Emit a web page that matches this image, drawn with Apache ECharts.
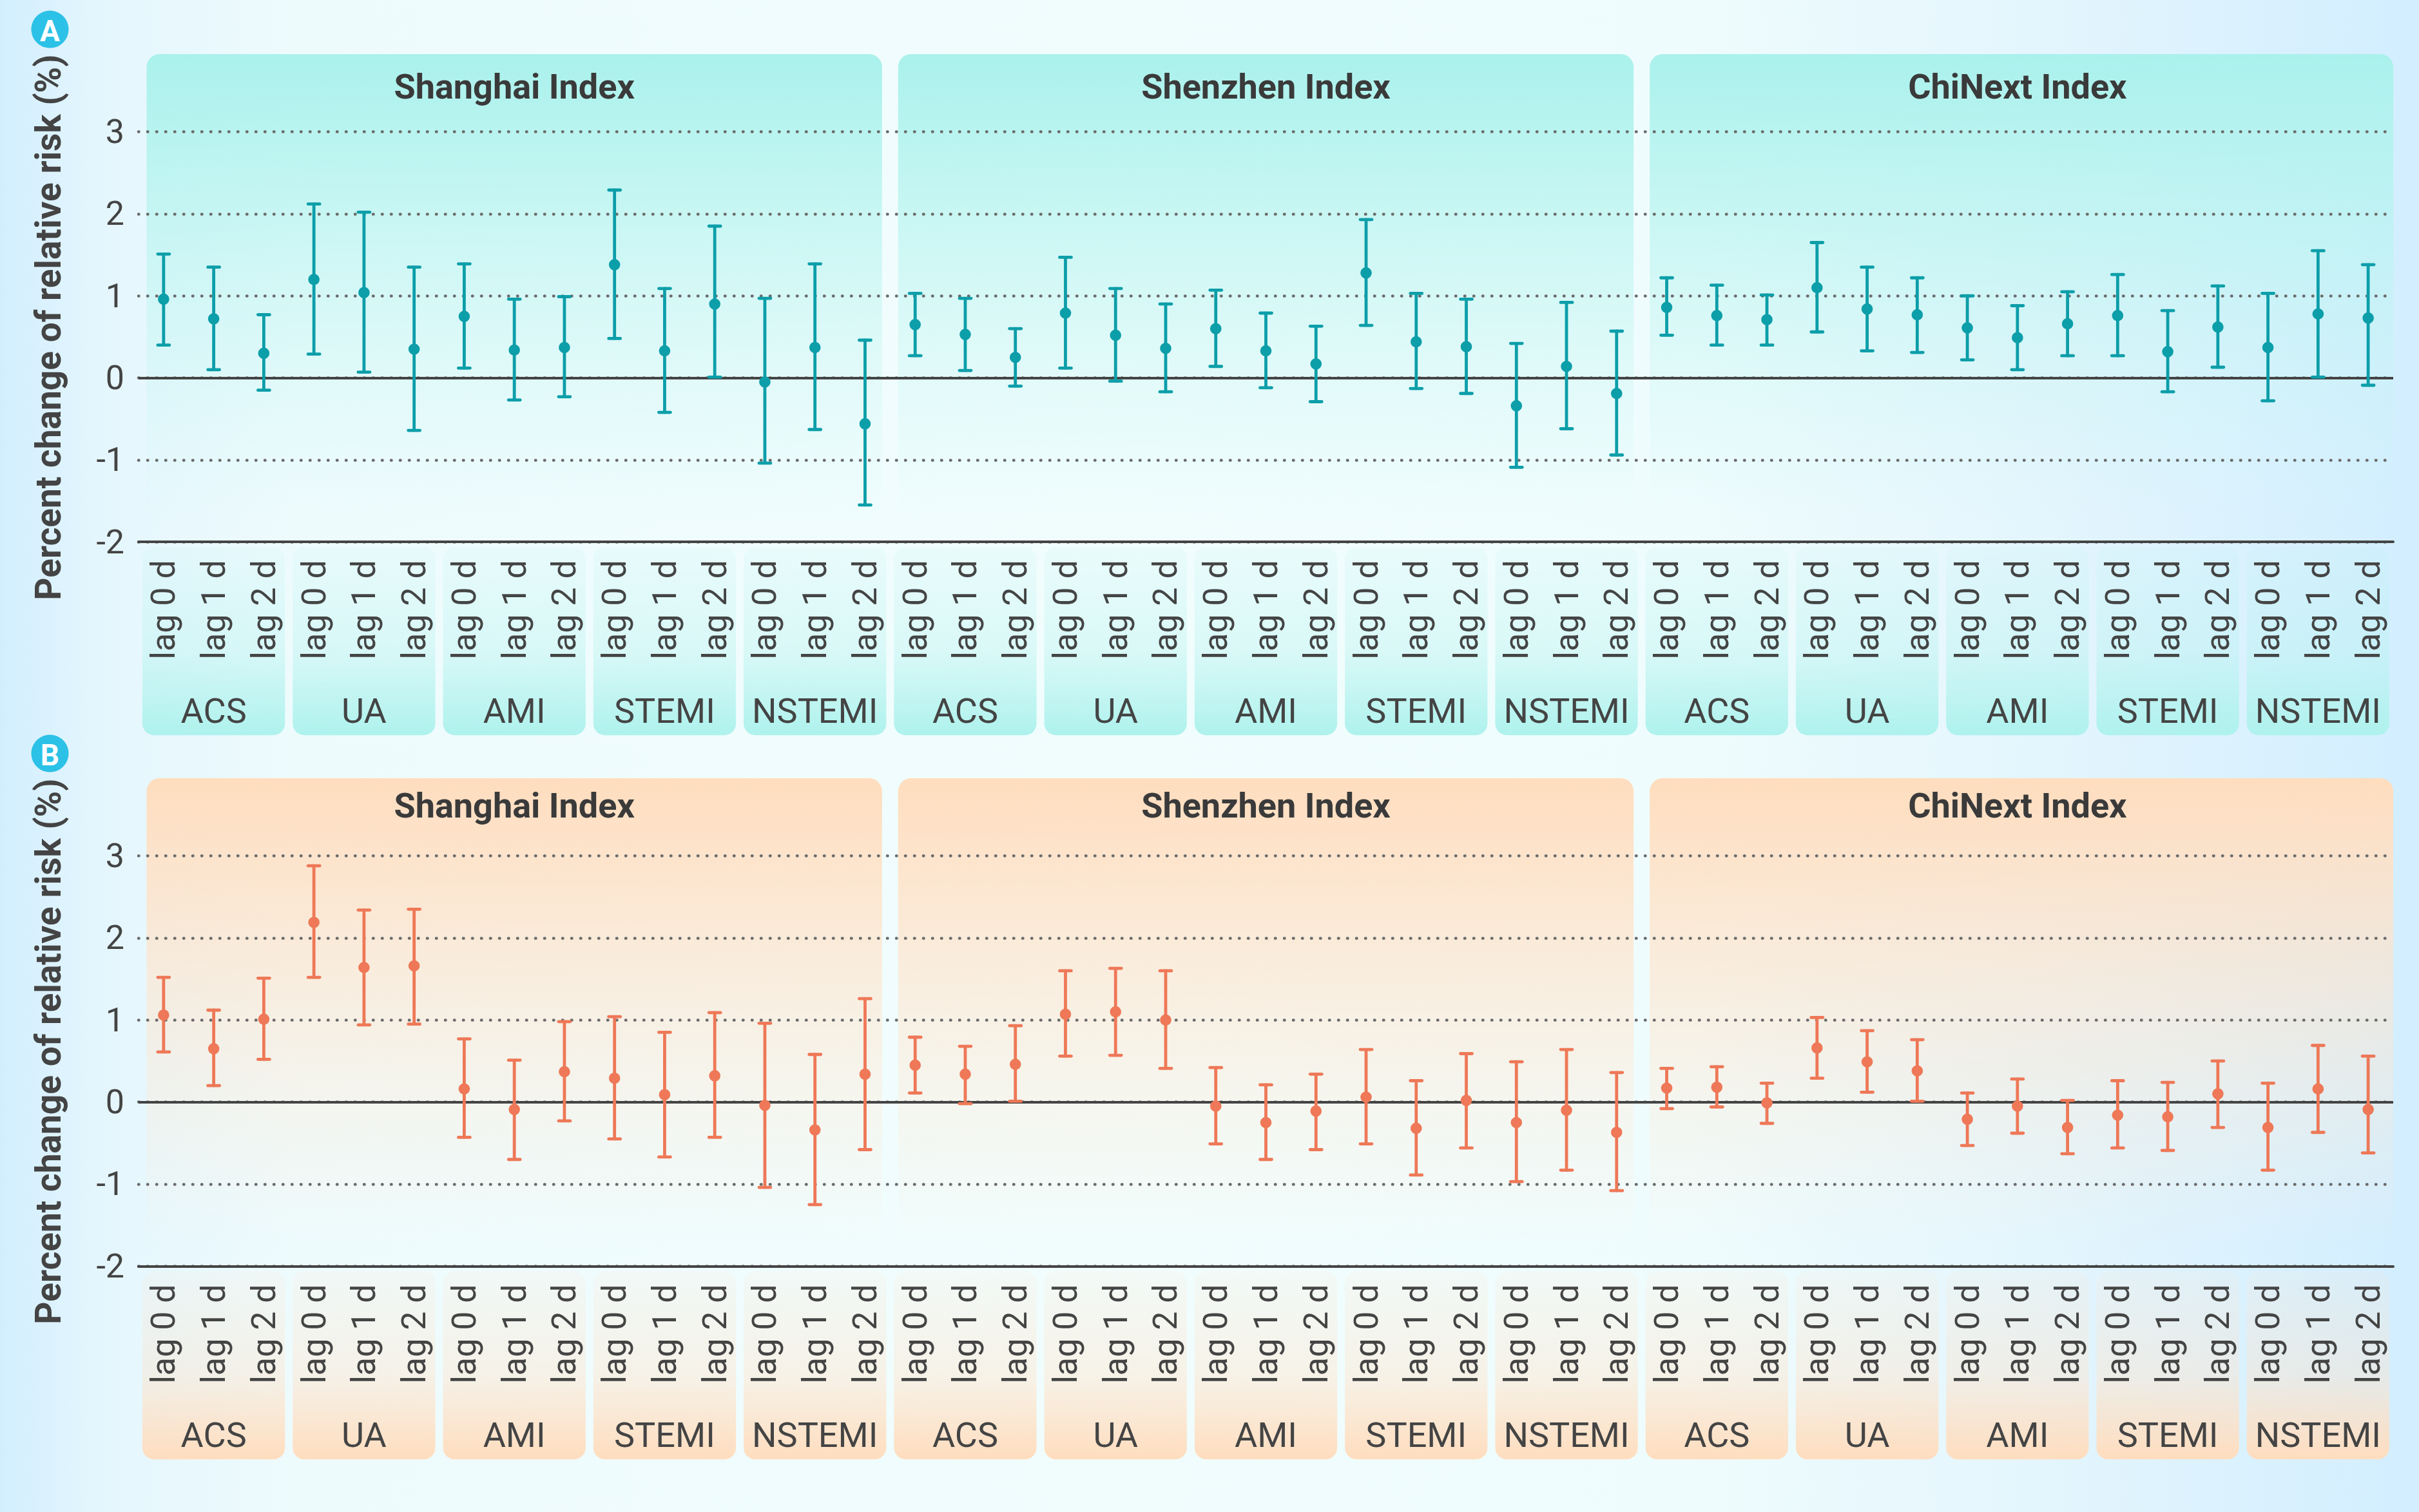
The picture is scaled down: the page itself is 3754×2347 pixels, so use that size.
<!DOCTYPE html>
<html>
<head>
<meta charset="utf-8">
<script src="https://cdn.jsdelivr.net/npm/echarts@6/dist/echarts.min.js"></script>
<style>
html,body{margin:0;padding:0;width:3754px;height:2347px;overflow:hidden;}
body{background:linear-gradient(90deg,#d2eefe 0%,#e4f6fd 4%,#eefbfd 12%,#f1fdfd 45%,#effcfd 70%,#e3f5fd 85%,#d2eeff 100%);}
#chart{width:3754px;height:2347px;}
</style>
</head>
<body>
<div id="chart"></div>
<script>
// ---- categories / labels ----
const lagLabels = ['lag 0 d', 'lag 1 d', 'lag 2 d'];
const groups = ['ACS', 'UA', 'AMI', 'STEMI', 'NSTEMI'];
const indices = ['Shanghai Index', 'Shenzhen Index', 'ChiNext Index'];
const yTicks = [-2, -1, 0, 1, 2, 3];
const yTitle = 'Percent change of relative risk (%)';
const panelTags = ['A', 'B'];

// ---- Panel A values (order: ACS, UA, AMI, STEMI, NSTEMI x lag0..2) ----
const aShanghaiEst  = [0.96, 0.72, 0.30, 1.20, 1.04, 0.35, 0.75, 0.34, 0.37, 1.38, 0.33, 0.90, -0.05, 0.37, -0.56];
const aShanghaiLow  = [0.40, 0.10, -0.15, 0.29, 0.07, -0.64, 0.12, -0.27, -0.23, 0.48, -0.42, 0.01, -1.04, -0.63, -1.55];
const aShanghaiHigh = [1.51, 1.35, 0.77, 2.12, 2.02, 1.35, 1.39, 0.96, 0.99, 2.29, 1.09, 1.85, 0.97, 1.39, 0.46];
const aShenzhenEst  = [0.65, 0.53, 0.25, 0.79, 0.52, 0.36, 0.60, 0.33, 0.17, 1.28, 0.44, 0.38, -0.34, 0.14, -0.19];
const aShenzhenLow  = [0.27, 0.09, -0.10, 0.12, -0.04, -0.17, 0.14, -0.12, -0.29, 0.64, -0.13, -0.19, -1.09, -0.62, -0.94];
const aShenzhenHigh = [1.03, 0.97, 0.60, 1.47, 1.09, 0.90, 1.07, 0.79, 0.63, 1.93, 1.03, 0.96, 0.42, 0.92, 0.57];
const aChiNextEst   = [0.86, 0.76, 0.71, 1.10, 0.84, 0.77, 0.61, 0.49, 0.66, 0.76, 0.32, 0.62, 0.37, 0.78, 0.73];
const aChiNextLow   = [0.52, 0.40, 0.40, 0.56, 0.33, 0.31, 0.22, 0.10, 0.27, 0.27, -0.17, 0.13, -0.28, 0.01, -0.09];
const aChiNextHigh  = [1.22, 1.13, 1.01, 1.65, 1.35, 1.22, 1.00, 0.88, 1.05, 1.26, 0.82, 1.12, 1.03, 1.55, 1.38];

// ---- Panel B values ----
const bShanghaiEst  = [1.06, 0.65, 1.01, 2.19, 1.64, 1.66, 0.16, -0.09, 0.37, 0.29, 0.09, 0.32, -0.04, -0.34, 0.34];
const bShanghaiLow  = [0.61, 0.20, 0.52, 1.52, 0.94, 0.95, -0.43, -0.70, -0.23, -0.45, -0.67, -0.43, -1.04, -1.25, -0.58];
const bShanghaiHigh = [1.52, 1.12, 1.51, 2.88, 2.34, 2.35, 0.77, 0.51, 0.98, 1.04, 0.85, 1.09, 0.96, 0.58, 1.26];
const bShenzhenEst  = [0.45, 0.34, 0.46, 1.07, 1.10, 1.00, -0.05, -0.25, -0.11, 0.06, -0.32, 0.02, -0.25, -0.10, -0.37];
const bShenzhenLow  = [0.11, -0.02, 0.01, 0.56, 0.57, 0.41, -0.51, -0.70, -0.58, -0.51, -0.89, -0.56, -0.97, -0.83, -1.08];
const bShenzhenHigh = [0.79, 0.68, 0.93, 1.60, 1.63, 1.60, 0.42, 0.21, 0.34, 0.64, 0.26, 0.59, 0.49, 0.64, 0.36];
const bChiNextEst   = [0.17, 0.18, -0.01, 0.66, 0.49, 0.38, -0.21, -0.05, -0.31, -0.16, -0.18, 0.10, -0.31, 0.16, -0.09];
const bChiNextLow   = [-0.08, -0.06, -0.26, 0.29, 0.12, 0.01, -0.53, -0.38, -0.63, -0.56, -0.59, -0.31, -0.83, -0.37, -0.62];
const bChiNextHigh  = [0.41, 0.43, 0.23, 1.03, 0.87, 0.76, 0.11, 0.28, 0.02, 0.26, 0.24, 0.50, 0.23, 0.69, 0.56];

// ---- build category lists ----
const xCats = [];
const groupCats = [];
indices.forEach(() => groups.forEach(g => { groupCats.push(g); lagLabels.forEach(l => xCats.push(l)); }));

const panels = [
  { est: [].concat(aShanghaiEst, aShenzhenEst, aChiNextEst),
    low: [].concat(aShanghaiLow, aShenzhenLow, aChiNextLow),
    high: [].concat(aShanghaiHigh, aShenzhenHigh, aChiNextHigh),
    color: '#0c9ea9',
    head: ['rgba(170,241,236,1)', 'rgba(178,243,238,0.82)', 'rgba(205,247,244,0)'],
    grp: ['rgba(182,243,239,0.12)', 'rgba(182,243,239,0.4)', 'rgba(174,242,237,1)'] },
  { est: [].concat(bShanghaiEst, bShenzhenEst, bChiNextEst),
    low: [].concat(bShanghaiLow, bShenzhenLow, bChiNextLow),
    high: [].concat(bShanghaiHigh, bShenzhenHigh, bChiNextHigh),
    color: '#ee7857',
    head: ['rgba(255,221,190,1)', 'rgba(255,225,198,0.82)', 'rgba(255,235,215,0)'],
    grp: ['rgba(255,226,200,0.12)', 'rgba(255,226,200,0.4)', 'rgba(255,221,190,1)'] }
];

const FONT = 'Roboto, "Noto Sans", sans-serif';
const TXT = '#444444';

const grids = [
  { left: 215, right: 40, top: 204.6, height: 636.6 },
  { left: 215, right: 40, top: 1328.6, height: 636.7 }
];

const xAxes = [], yAxes = [], series = [];
panels.forEach((p, g) => {
  xAxes.push({
    type: 'category', gridIndex: g, data: xCats, position: 'bottom',
    axisLine: { show: true, onZero: false, lineStyle: { color: TXT, width: 4 } },
    axisTick: { show: false },
    axisLabel: { interval: 0, rotate: 90, fontSize: 52, color: TXT, margin: 28, fontFamily: FONT },
    splitLine: { show: false }
  });
  xAxes.push({
    type: 'category', gridIndex: g, data: groupCats, position: 'bottom', offset: 200,
    axisLine: { show: false }, axisTick: { show: false },
    axisLabel: { interval: 0, fontSize: 54, color: TXT, margin: 35, fontFamily: FONT },
    splitLine: { show: false }
  });
  xAxes.push({
    type: 'category', gridIndex: g, data: indices, position: 'top',
    axisLine: { show: false }, axisTick: { show: false },
    axisLabel: { interval: 0, fontSize: 54, fontWeight: 'bold', color: '#3a3a3a', margin: g === 0 ? 43 : 51, fontFamily: FONT },
    splitLine: { show: false }
  });
  yAxes.push({
    type: 'value', gridIndex: g, min: yTicks[0], max: yTicks[yTicks.length - 1], interval: 1,
    axisLine: { show: false }, axisTick: { show: false },
    axisLabel: { fontSize: 52, color: TXT, margin: 22, fontFamily: FONT },
    splitLine: { show: true, lineStyle: { color: '#6a6a6a', width: 4.5, type: [0.5, 13.5], cap: 'round' } }
  });
  const xi = g * 3;
  const col = p.color;
  series.push({
    type: 'custom', xAxisIndex: xi, yAxisIndex: g, clip: false, z: 3,
    data: p.est.map((v, i) => [i, p.low[i], p.high[i]]),
    encode: { x: 0, y: [1, 2] },
    renderItem: function (params, api) {
      const x = api.value(0);
      const top = api.coord([x, api.value(2)]);
      const bot = api.coord([x, api.value(1)]);
      const hw = 9;
      const st = { stroke: col, lineWidth: 4.8, lineCap: 'round' };
      return { type: 'group', children: [
        { type: 'line', shape: { x1: top[0], y1: top[1], x2: bot[0], y2: bot[1] }, style: st },
        { type: 'line', shape: { x1: top[0] - hw, y1: top[1], x2: top[0] + hw, y2: top[1] }, style: st },
        { type: 'line', shape: { x1: bot[0] - hw, y1: bot[1], x2: bot[0] + hw, y2: bot[1] }, style: st }
      ] };
    }
  });
  series.push({
    type: 'scatter', xAxisIndex: xi, yAxisIndex: g, z: 4,
    data: p.est.map((v, i) => [i, v]),
    symbol: 'circle', symbolSize: 17.5,
    itemStyle: { color: col, opacity: 1 },
    markLine: {
      silent: true, symbol: 'none', animation: false, z: 2,
      label: { show: false },
      lineStyle: { color: TXT, width: 4, type: 'solid' },
      data: [{ yAxis: 0 }]
    }
  });
});

const chart = echarts.init(document.getElementById('chart'), null, { renderer: 'svg' });
chart.setOption({
  animation: false,
  backgroundColor: 'transparent',
  textStyle: { fontFamily: FONT },
  grid: grids,
  xAxis: xAxes,
  yAxis: yAxes,
  series: series
});

// ---- decorative panels positioned through the axes' own scales ----
const elements = [];
panels.forEach((p, g) => {
  const xi = g * 3;
  const cx = i => chart.convertToPixel({ xAxisIndex: xi }, i);
  const cy = v => chart.convertToPixel({ yAxisIndex: g }, v);
  const band = cx(1) - cx(0);
  const yTop = cy(3), yBot = cy(-2);
  for (let k = 0; k < indices.length; k++) {
    const x0 = cx(k * 15) - band / 2 + 12.5;
    const x1 = cx(k * 15 + 14) + band / 2 - (k === indices.length - 1 ? 0 : 12.5);
    const y0 = yTop - 120.5;
    const y1 = cy(-1.75);
    elements.push({
      type: 'rect', z: -10, silent: true,
      shape: { x: x0, y: y0, width: x1 - x0, height: y1 - y0, r: [20, 20, 0, 0] },
      style: { fill: { type: 'linear', x: 0, y: 0, x2: 0, y2: 1, colorStops: [
        { offset: 0, color: p.head[0] }, { offset: 0.22, color: p.head[1] }, { offset: 1, color: p.head[2] }] } }
    });
  }
  for (let k = 0; k < groupCats.length; k++) {
    const x0 = cx(k * 3) - band / 2 + 6;
    const x1 = cx(k * 3 + 2) + band / 2 - 6;
    const y0 = yBot + 8;
    const y1 = yBot + 300;
    elements.push({
      type: 'rect', z: -9, silent: true,
      shape: { x: x0, y: y0, width: x1 - x0, height: y1 - y0, r: 18 },
      style: { fill: { type: 'linear', x: 0, y: 0, x2: 0, y2: 1, colorStops: [
        { offset: 0, color: p.grp[0] }, { offset: 0.55, color: p.grp[1] }, { offset: 1, color: p.grp[2] }] } }
    });
  }
  elements.push({
    type: 'text', z: 10, silent: true, x: 75, y: yTop + 303.5, rotation: Math.PI / 2,
    style: { text: yTitle, fill: TXT, font: 'bold 55px ' + FONT, align: 'center', verticalAlign: 'middle' }
  });
  elements.push({
    type: 'circle', z: 10, silent: true,
    shape: { cx: 77.5, cy: yTop - 159, r: 29 },
    style: { fill: '#2cc1e6' }
  });
  elements.push({
    type: 'text', z: 11, silent: true, x: 77.5, y: yTop - 157,
    style: { text: panelTags[g], fill: '#ffffff', font: 'bold 46px ' + FONT, align: 'center', verticalAlign: 'middle' }
  });
});
chart.setOption({ graphic: { elements: elements } });
</script>
</body>
</html>
